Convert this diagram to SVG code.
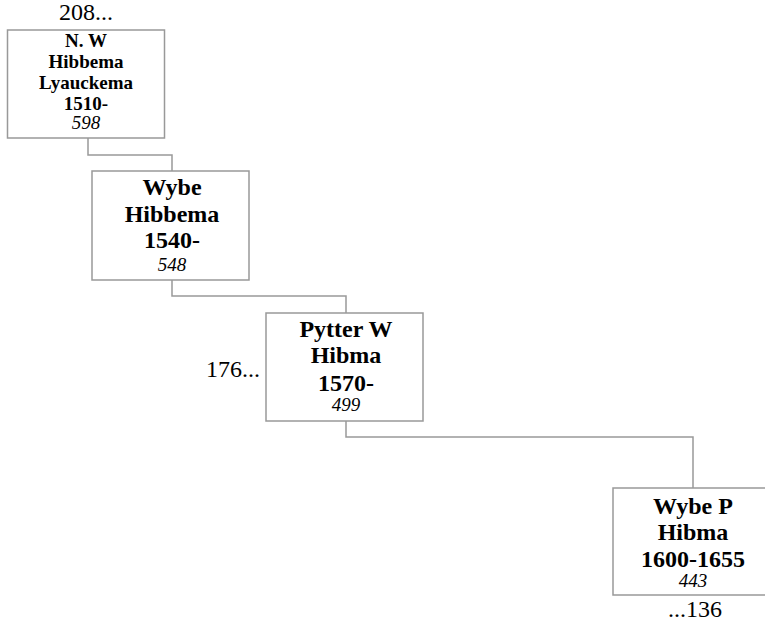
<svg xmlns="http://www.w3.org/2000/svg" width="765" height="626" viewBox="0 0 765 626">
<style>
.box{fill:#fff;stroke:#999;stroke-width:1.5}
.conn{fill:none;stroke:#999;stroke-width:1.5}
text{font-family:"Liberation Serif","Times New Roman",serif;fill:#000;text-anchor:middle}
.b1{font-weight:bold;font-size:19px}
.b{font-weight:bold;font-size:24px}
.n{font-style:italic;font-size:19px}
.o{font-size:24px}
</style>
<rect width="765" height="626" fill="#fff"/>
<g id="connectors">
<polyline class="conn" points="88,138 88,155 172,155 172,171"/>
<polyline class="conn" points="172,280 172,296 346,296 346,313"/>
<polyline class="conn" points="346,421 346,437 693,437 693,488"/>
</g>
<g id="node1">
<rect class="box" x="7.5" y="30" width="157" height="108"/>
<text class="b1" x="86" y="47">N. W</text>
<text class="b1" x="86" y="68">Hibbema</text>
<text class="b1" x="86" y="89">Lyauckema</text>
<text class="b1" x="86" y="110">1510-</text>
<text class="n" x="86" y="129">598</text>
<text class="o" x="86" y="20">208...</text>
</g>
<g id="node2">
<rect class="box" x="92" y="171" width="157" height="109"/>
<text class="b" x="172" y="195">Wybe</text>
<text class="b" x="172" y="222">Hibbema</text>
<text class="b" x="172" y="248">1540-</text>
<text class="n" x="172" y="271">548</text>
</g>
<g id="node3">
<rect class="box" x="266" y="313" width="157" height="108"/>
<text class="b" x="346" y="337">Pytter W</text>
<text class="b" x="346" y="363">Hibma</text>
<text class="b" x="346" y="391">1570-</text>
<text class="n" x="346" y="411">499</text>
<text class="o" x="233" y="377">176...</text>
</g>
<g id="node4">
<rect class="box" x="613" y="488" width="160" height="107"/>
<text class="b" x="693" y="514">Wybe P</text>
<text class="b" x="693" y="540">Hibma</text>
<text class="b" x="693" y="567">1600-1655</text>
<text class="n" x="693" y="587">443</text>
<text class="o" x="695" y="617">...136</text>
</g>
</svg>
